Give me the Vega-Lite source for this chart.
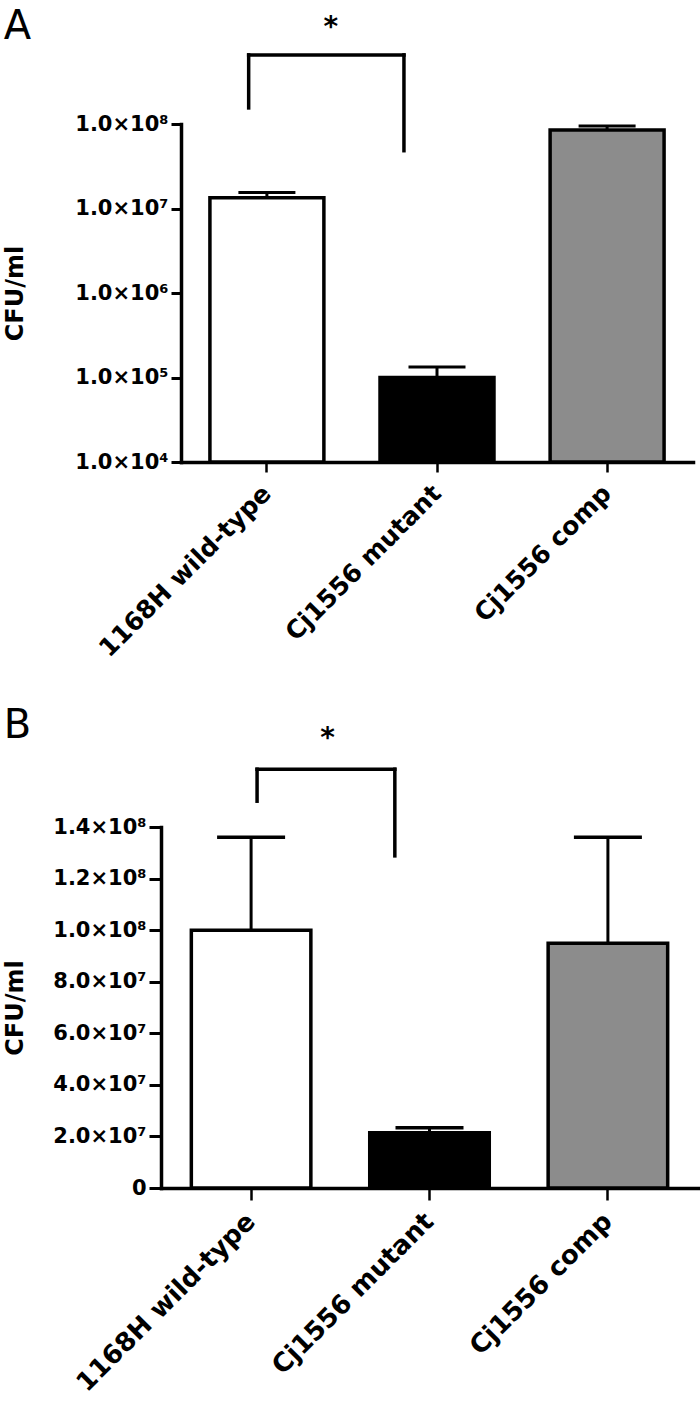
{
  "$schema": "https://vega.github.io/schema/vega-lite/v6.json",
  "padding": {"top": 7, "left": 3, "right": 0, "bottom": 0},
  "background": "white",
  "spacing": 44,
  "config": {
    "view": {"stroke": null},
    "font": "DejaVu Sans",
    "axis": {"grid": false, "domainColor": "black", "tickColor": "black", "labelColor": "black", "titleColor": "black", "labelFont": "DejaVu Sans", "titleFont": "DejaVu Sans", "domainCap": "square"}
  },
  "datasets": {
    "a_bars": [
      {"g": "1168H wild-type", "v": 13400000, "hi": 15500000},
      {"g": "Cj1556 mutant", "v": 100000, "hi": 133000},
      {"g": "Cj1556 comp", "v": 85000000, "hi": 95000000}
    ],
    "a_sig": [
      {"a": "1168H wild-type", "b": "Cj1556 mutant", "top": 657000000, "la": 155000000, "lb": 48300000, "star": 1350000000, "sig": "*"}
    ],
    "b_bars": [
      {"g": "1168H wild-type", "v": 100000000, "hi": 136000000},
      {"g": "Cj1556 mutant", "v": 21400000, "hi": 23400000},
      {"g": "Cj1556 comp", "v": 94900000, "hi": 136000000}
    ],
    "b_sig": [
      {"a": "1168H wild-type", "b": "Cj1556 mutant", "top": 162400000, "la": 150000000, "lb": 128800000, "star": 174000000, "sig": "*"}
    ]
  },
  "resolve": {"scale": {"x": "independent", "y": "independent"}},
  "vconcat": [
    {
      "width": 512,
      "height": 338,
      "title": {"text": "A", "anchor": "start", "frame": "bounds", "fontSize": 40, "fontWeight": "normal", "font": "DejaVu Sans", "baseline": "alphabetic", "offset": -65},
      "layer": [
        {
          "data": {"name": "a_bars"},
          "mark": {"type": "bar", "stroke": "black", "strokeWidth": 3.5, "clip": false},
          "encoding": {
            "x": {"field": "g", "type": "nominal", "title": null,
              "scale": {"domain": ["1168H wild-type", "Cj1556 mutant", "Cj1556 comp"], "paddingInner": 0.33, "paddingOuter": 0.17},
              "axis": {"labelAngle": -45, "labelFontSize": 25, "labelFontWeight": "bold", "labelLimit": 0, "labelBaseline": "middle", "labelAlign": "right", "tickSize": 10, "tickWidth": 2.5, "domainWidth": 3.5, "labelPadding": 17}},
            "y": {"field": "v", "type": "quantitative", "title": "CFU/ml",
              "scale": {"type": "log", "domain": [10000, 100000000], "nice": false},
              "axis": {"title": "CFU/ml", "values": [10000, 100000, 1000000, 10000000, 100000000],
                "labelExpr": "'1.0×10' + ['⁴','⁵','⁶','⁷','⁸'][round(log(datum.value)/LN10) - 4]",
                "labelFontSize": 21, "labelFontWeight": "bold", "tickSize": 10, "tickWidth": 3, "domainWidth": 3.5, "labelPadding": 3,
                "titleFontSize": 24, "titleFontWeight": "bold", "titlePadding": 47, "labelOverlap": false, "labelFlush": false}},
            "y2": {"datum": 10000},
            "color": {"field": "g", "type": "nominal", "legend": null,
              "scale": {"domain": ["1168H wild-type", "Cj1556 mutant", "Cj1556 comp"], "range": ["#ffffff", "#000000", "#8c8c8c"]}}
          }
        },
        {
          "data": {"name": "a_bars"},
          "mark": {"type": "rule", "strokeWidth": 3, "color": "black"},
          "encoding": {
            "x": {"field": "g", "type": "nominal", "title": null},
            "y": {"field": "v", "type": "quantitative", "title": "CFU/ml"},
            "y2": {"field": "hi"}
          }
        },
        {
          "data": {"name": "a_bars"},
          "mark": {"type": "tick", "orient": "horizontal", "size": 57, "thickness": 3, "color": "black", "opacity": 1},
          "encoding": {
            "x": {"field": "g", "type": "nominal", "title": null},
            "y": {"field": "hi", "type": "quantitative", "title": "CFU/ml"}
          }
        },
        {
          "data": {"name": "a_sig"},
          "mark": {"type": "rule", "strokeWidth": 3.5, "color": "black", "clip": false, "strokeCap": "square"},
          "encoding": {
            "x": {"field": "a", "type": "nominal", "title": null, "bandPosition": 0.34},
            "y": {"field": "top", "type": "quantitative", "title": "CFU/ml"},
            "y2": {"field": "la"}
          }
        },
        {
          "data": {"name": "a_sig"},
          "mark": {"type": "rule", "strokeWidth": 3.5, "color": "black", "clip": false, "strokeCap": "square"},
          "encoding": {
            "x": {"field": "b", "type": "nominal", "title": null, "bandPosition": 0.21},
            "y": {"field": "top", "type": "quantitative", "title": "CFU/ml"},
            "y2": {"field": "lb"}
          }
        },
        {
          "data": {"name": "a_sig"},
          "mark": {"type": "rule", "strokeWidth": 3.5, "color": "black", "clip": false, "strokeCap": "square"},
          "encoding": {
            "x": {"field": "a", "type": "nominal", "title": null, "bandPosition": 0.34},
            "x2": {"field": "b", "bandPosition": 0.21},
            "y": {"field": "top", "type": "quantitative", "title": "CFU/ml"}
          }
        },
        {
          "data": {"name": "a_sig"},
          "mark": {"type": "text", "fontSize": 28, "fontWeight": "bold", "align": "center", "baseline": "middle", "clip": false, "font": "DejaVu Sans"},
          "encoding": {
            "x": {"field": "a", "type": "nominal", "title": null, "bandPosition": 1.06},
            "y": {"field": "star", "type": "quantitative", "title": "CFU/ml"},
            "text": {"field": "sig"}
          }
        }
      ]
    },
    {
      "width": 517,
      "height": 361,
      "title": {"text": "B", "anchor": "start", "frame": "bounds", "fontSize": 40, "fontWeight": "normal", "font": "DejaVu Sans", "baseline": "alphabetic", "offset": -53},
      "layer": [
        {
          "data": {"name": "b_bars"},
          "mark": {"type": "bar", "stroke": "black", "strokeWidth": 3.5, "clip": false},
          "encoding": {
            "x": {"field": "g", "type": "nominal", "title": null,
              "scale": {"domain": ["1168H wild-type", "Cj1556 mutant", "Cj1556 comp"], "range": [-20, 517], "paddingInner": 0.33, "paddingOuter": 0.17},
              "axis": {"labelAngle": -45, "labelFontSize": 26, "labelFontWeight": "bold", "labelLimit": 0, "labelBaseline": "middle", "labelAlign": "right", "tickSize": 12, "tickWidth": 2.5, "domainWidth": 3.5, "labelPadding": 17}},
            "y": {"field": "v", "type": "quantitative", "title": "CFU/ml",
              "scale": {"domain": [0, 140000000], "nice": false},
              "axis": {"title": "CFU/ml", "offset": 20, "values": [0, 20000000, 40000000, 60000000, 80000000, 100000000, 120000000, 140000000],
                "labelExpr": "datum.value == 0 ? '0' : (datum.value >= 100000000 ? format(datum.value/100000000, '.1f') + '×10⁸' : format(datum.value/10000000, '.1f') + '×10⁷')",
                "labelFontSize": 21, "labelFontWeight": "bold", "tickSize": 12, "tickWidth": 3, "domainWidth": 3.5, "labelPadding": 3,
                "titleFontSize": 24, "titleFontWeight": "bold", "titlePadding": 25, "labelOverlap": false, "labelFlush": false}},
            "y2": {"datum": 0},
            "color": {"field": "g", "type": "nominal", "legend": null,
              "scale": {"domain": ["1168H wild-type", "Cj1556 mutant", "Cj1556 comp"], "range": ["#ffffff", "#000000", "#8c8c8c"]}}
          }
        },
        {
          "data": {"name": "b_bars"},
          "mark": {"type": "rule", "strokeWidth": 3, "color": "black"},
          "encoding": {
            "x": {"field": "g", "type": "nominal", "title": null},
            "y": {"field": "v", "type": "quantitative", "title": "CFU/ml"},
            "y2": {"field": "hi"}
          }
        },
        {
          "data": {"name": "b_bars"},
          "mark": {"type": "tick", "orient": "horizontal", "size": 68, "thickness": 3.5, "color": "black", "opacity": 1},
          "encoding": {
            "x": {"field": "g", "type": "nominal", "title": null},
            "y": {"field": "hi", "type": "quantitative", "title": "CFU/ml"}
          }
        },
        {
          "data": {"name": "b_sig"},
          "mark": {"type": "rule", "strokeWidth": 3.5, "color": "black", "clip": false, "strokeCap": "square"},
          "encoding": {
            "x": {"field": "a", "type": "nominal", "title": null, "bandPosition": 0.55},
            "y": {"field": "top", "type": "quantitative", "title": "CFU/ml"},
            "y2": {"field": "la"}
          }
        },
        {
          "data": {"name": "b_sig"},
          "mark": {"type": "rule", "strokeWidth": 3.5, "color": "black", "clip": false, "strokeCap": "square"},
          "encoding": {
            "x": {"field": "b", "type": "nominal", "title": null, "bandPosition": 0.21},
            "y": {"field": "top", "type": "quantitative", "title": "CFU/ml"},
            "y2": {"field": "lb"}
          }
        },
        {
          "data": {"name": "b_sig"},
          "mark": {"type": "rule", "strokeWidth": 3.5, "color": "black", "clip": false, "strokeCap": "square"},
          "encoding": {
            "x": {"field": "a", "type": "nominal", "title": null, "bandPosition": 0.55},
            "x2": {"field": "b", "bandPosition": 0.21},
            "y": {"field": "top", "type": "quantitative", "title": "CFU/ml"}
          }
        },
        {
          "data": {"name": "b_sig"},
          "mark": {"type": "text", "fontSize": 28, "fontWeight": "bold", "align": "center", "baseline": "middle", "clip": false, "font": "DejaVu Sans"},
          "encoding": {
            "x": {"field": "a", "type": "nominal", "title": null, "bandPosition": 1.14},
            "y": {"field": "star", "type": "quantitative", "title": "CFU/ml"},
            "text": {"field": "sig"}
          }
        }
      ]
    }
  ]
}
